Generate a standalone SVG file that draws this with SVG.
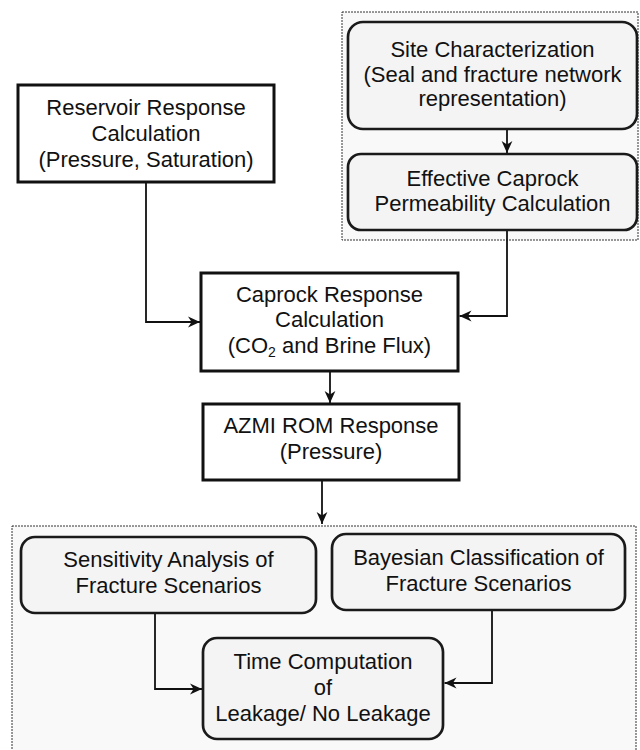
<svg xmlns="http://www.w3.org/2000/svg" width="640" height="750" viewBox="0 0 640 750">
<defs>
<marker id="arr" viewBox="0 0 10 10" markerWidth="12" markerHeight="12" refX="10" refY="5" orient="auto" markerUnits="userSpaceOnUse">
<path d="M0,0.5 L10,5 L0,9.5 L3,5 z" fill="#111"/>
</marker>
<style>
.group{fill:#f9f9f9;stroke:#333;stroke-width:1;stroke-dasharray:2,1}
.sq{fill:#fff;stroke:#111;stroke-width:3}
.rd{fill:#f4f4f4;stroke:#1a1a1a;stroke-width:2.7}
.t{font-family:"Liberation Sans",Arial,sans-serif;font-size:22px;fill:#111;text-anchor:middle}
.c{fill:none;stroke:#111;stroke-width:1.8;marker-end:url(#arr)}
</style>
</defs>
<rect width="640" height="750" fill="#fff"/>
<g id="regions">
<rect class="group" x="342" y="12" width="296" height="228"/>
<rect class="group" x="12" y="526" width="624" height="230"/>
</g>
<g id="connectors">
<path class="c" d="M507,129 V153"/>
<path class="c" d="M146,182 V322 H200"/>
<path class="c" d="M507,230 V316 H459.5"/>
<path class="c" d="M330,371 V403"/>
<path class="c" d="M322,481 V524"/>
<path class="c" d="M155,613 V689 H202"/>
<path class="c" d="M492,610 V683 H444.5"/>
</g>
<g id="site">
<rect class="rd" x="348" y="22" width="289" height="107" rx="15"/>
<text class="t" x="492.5" y="57">Site Characterization</text>
<text class="t" x="492.5" y="82">(Seal and fracture network</text>
<text class="t" x="492.5" y="106">representation)</text>
</g>
<g id="effective">
<rect class="rd" x="348" y="154" width="289" height="76" rx="13"/>
<text class="t" x="492.5" y="186">Effective Caprock</text>
<text class="t" x="492.5" y="211">Permeability Calculation</text>
</g>
<g id="reservoir">
<rect class="sq" x="18" y="85" width="256" height="97"/>
<text class="t" x="146" y="115">Reservoir Response</text>
<text class="t" x="146" y="141">Calculation</text>
<text class="t" x="146" y="167">(Pressure, Saturation)</text>
</g>
<g id="caprock">
<rect class="sq" x="201" y="273" width="257" height="98"/>
<text class="t" x="329.5" y="302">Caprock Response</text>
<text class="t" x="329.5" y="327">Calculation</text>
<text class="t" x="329.5" y="353">(CO<tspan font-size="14" dy="4">2</tspan><tspan dy="-4"> and Brine Flux)</tspan></text>
</g>
<g id="azmi">
<rect class="sq" x="203" y="404" width="256" height="76"/>
<text class="t" x="331" y="433">AZMI ROM Response</text>
<text class="t" x="331" y="459">(Pressure)</text>
</g>
<g id="sensitivity">
<rect class="rd" x="21" y="537" width="295" height="76" rx="14"/>
<text class="t" x="168.5" y="567">Sensitivity Analysis of</text>
<text class="t" x="168.5" y="593">Fracture Scenarios</text>
</g>
<g id="bayesian">
<rect class="rd" x="332" y="534" width="293" height="76" rx="14"/>
<text class="t" x="478.5" y="565">Bayesian Classification of</text>
<text class="t" x="478.5" y="591">Fracture Scenarios</text>
</g>
<g id="time">
<rect class="rd" x="203" y="638" width="240" height="101" rx="14"/>
<text class="t" x="323" y="669">Time Computation</text>
<text class="t" x="323" y="695">of</text>
<text class="t" x="323" y="721">Leakage/ No Leakage</text>
</g>
</svg>
